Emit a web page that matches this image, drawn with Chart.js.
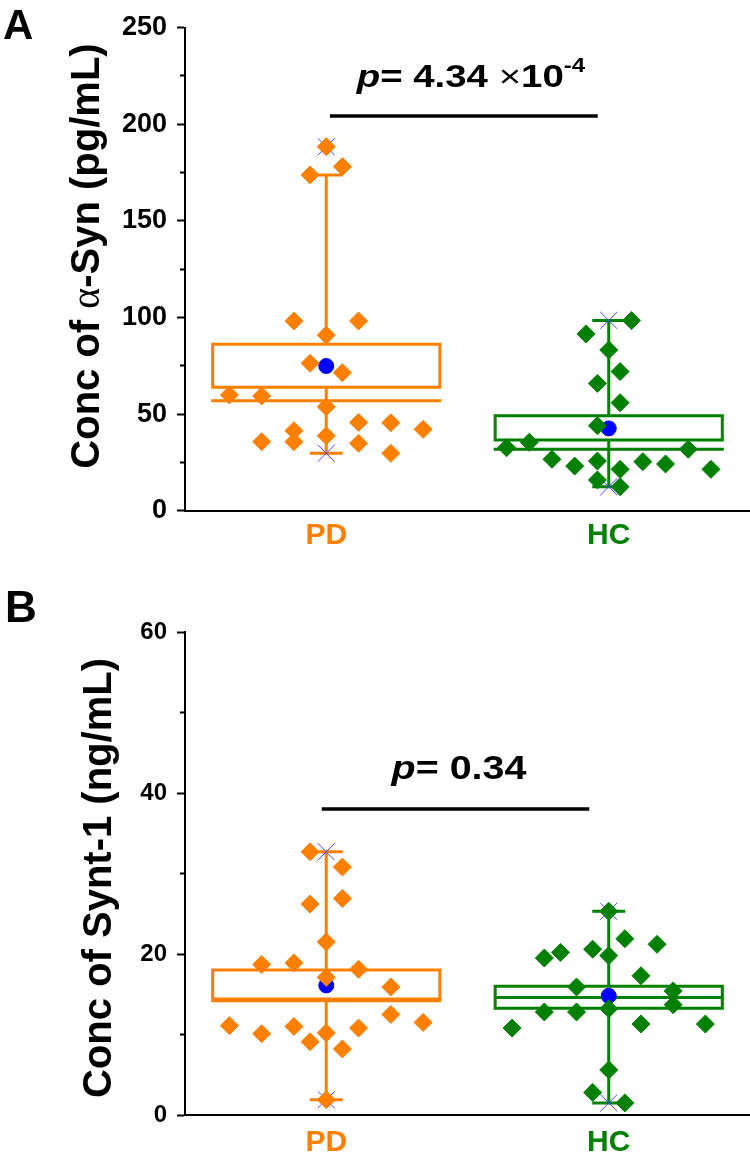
<!DOCTYPE html>
<html><head><meta charset="utf-8">
<script src="https://cdn.jsdelivr.net/npm/chart.js@4/dist/chart.umd.min.js"></script>
<style>
html,body{margin:0;padding:0;background:#fff;width:750px;height:1171px;overflow:hidden}
canvas{position:absolute;left:0}
#cA{top:0}
#cB{top:585px}
</style></head><body>
<canvas id="cA" width="750" height="585"></canvas>
<canvas id="cB" width="750" height="586"></canvas>
<script>
// ---------------- DATA ----------------
const categories = ['PD', 'HC'];

// Panel A: alpha-Syn (pg/mL)
const A_yMax = 250, A_yMajor = 50, A_yMinor = 25;
const pdA_values = [188.4, 173.8, 178.1, 98.2, 98.2, 90.9, 76.3, 71.4, 59.9, 59.4, 53.8, 45.7, 41.4, 35.7, 35.7, 38.8, 34.9, 45.5, 42.1, 29.7];
const pdA_jitter = [0, -0.5, 0.5, -1, 1, 0, -0.5, 0.5, -3, -2, 0, 1, -1, -2, -1, 0, 1, 2, 3, 2];
const hcA_values = [98.4, 91.5, 83.2, 72.0, 65.9, 55.9, 44.0, 32.6, 35.4, 26.6, 23.1, 25.7, 21.4, 25.4, 24.2, 31.8, 21.4, 15.9, 12.4];
const hcA_jitter = [1, -1, 0, 0.5, -0.5, 0.5, -0.5, -4.5, -3.5, -2.5, -1.5, -0.5, 0.5, 1.5, 2.5, 3.5, 4.5, -0.5, 0.5];
const A_mean = [74.9, 42.6];
const A_boxLow = [63.9, 36.6];
const A_boxHigh = [86.1, 49.2];
const A_median = [56.9, 31.8];
const A_whiskerLow = [29.7, 12.4];
const A_whiskerHigh = [173.8, 98.5];
const A_min = [29.7, 12.4];
const A_max = [188.4, 98.5];
const A_pValue = '4.34';
const A_pExp = '-4';

// Panel B: Synt-1 (ng/mL)
const B_yMax = 60, B_yMajor = 20, B_yMinor = 10;
const pdB_values = [32.7, 30.8, 26.2, 26.9, 21.5, 18.7, 18.9, 18.1, 17.1, 11.1, 10.1, 11.0, 9.1, 10.2, 8.2, 10.8, 1.9, 15.9, 12.5, 11.5];
const pdB_jitter = [-0.5, 0.5, -0.5, 0.5, 0, -2, -1, 1, 0, -3, -2, -1, -0.5, 0, 0.5, 1, 0, 2, 2, 3];
const hcB_values = [25.3, 21.9, 21.2, 19.5, 20.2, 20.6, 19.8, 17.3, 15.9, 15.4, 13.7, 13.2, 12.8, 12.8, 10.8, 11.3, 11.3, 5.6, 2.8, 1.5];
const hcB_jitter = [0, 1, 3, -4, -3, -1, 0, 2, -2, 4, 4, 0, -2, -4, -6, 2, 6, 0, -1, 1];
const B_mean = [16.1, 14.8];
const B_boxLow = [14.4, 13.25];
const B_boxHigh = [18.0, 16.0];
const B_median = [14.2, 14.6];
const B_whiskerLow = [1.9, 1.5];
const B_whiskerHigh = [32.7, 25.3];
const B_min = [1.9, 1.5];
const B_max = [32.7, 25.3];
const B_pValue = '0.34';

// ---------------- STYLE ----------------
const FONT = '"Liberation Sans", Arial, Helvetica, sans-serif';
const SERIF = '"Liberation Serif", "Times New Roman", serif';
const ORANGE = 'rgb(255,128,0)';
const GREEN = 'rgb(0,128,0)';
const BLUE = 'rgb(0,0,255)';
const XBLUE = 'rgb(70,70,255)';
const catColors = [ORANGE, GREEN];
const BOX_HALF = 0.402;   // half box width in category units
const CAP_HALF = 0.053;   // half whisker-cap width in category units

Chart.defaults.font.family = FONT;

function jitterPts(values, jitter, center, spacing) {
  return values.map((v, i) => ({x: center + jitter[i] * spacing, y: v}));
}

function groupLines(g, color, st) {
  const c = g, gap = {x: c, y: null};
  const lo = st.boxLow[g], hi = st.boxHigh[g];
  const data = [
    {x: c - BOX_HALF, y: lo}, {x: c + BOX_HALF, y: lo}, {x: c + BOX_HALF, y: hi}, {x: c - BOX_HALF, y: hi}, {x: c - BOX_HALF, y: lo}, gap,
    {x: c - BOX_HALF, y: st.median[g]}, {x: c + BOX_HALF, y: st.median[g]}, gap,
    {x: c, y: st.whiskerLow[g]}, {x: c, y: lo}, gap,
    {x: c, y: hi}, {x: c, y: st.whiskerHigh[g]}, gap,
    {x: c - CAP_HALF, y: st.whiskerLow[g]}, {x: c + CAP_HALF, y: st.whiskerLow[g]}, gap,
    {x: c - CAP_HALF, y: st.whiskerHigh[g]}, {x: c + CAP_HALF, y: st.whiskerHigh[g]}
  ];
  return {data, showLine: true, borderColor: color, borderWidth: 3, pointRadius: 0,
          spanGaps: false, borderJoinStyle: 'miter', borderCapStyle: 'square', order: 5};
}

function drawParts(ctx, parts, cx, baseline, stretch) {
  const widths = parts.map(p => { ctx.font = p.font; return ctx.measureText(p.text).width; });
  const total = widths.reduce((a, b) => a + b, 0);
  ctx.save();
  ctx.translate(cx, baseline);
  ctx.scale(stretch, 1);
  ctx.textAlign = 'left';
  ctx.textBaseline = 'alphabetic';
  let x = -total / 2;
  parts.forEach((p, i) => {
    ctx.font = p.font;
    ctx.fillStyle = '#000';
    ctx.fillText(p.text, x, -(p.dy || 0));
    x += widths[i];
  });
  ctx.restore();
}

function textPlugin(cfg) {
  return {
    id: 'panelText' + cfg.letter,
    afterDraw(chart) {
      const ctx = chart.ctx;
      const xs = chart.scales.x, ys = chart.scales.y;
      ctx.save();
      ctx.fillStyle = '#000';
      ctx.font = 'bold ' + cfg.letterSize + 'px ' + FONT;
      ctx.textAlign = 'left';
      ctx.textBaseline = 'alphabetic';
      ctx.fillText(cfg.letter, cfg.letterX, cfg.letterY);
      ctx.restore();
      ctx.save();
      ctx.translate(cfg.titleX, cfg.titleY);
      ctx.rotate(-Math.PI / 2);
      drawParts(ctx, cfg.titleParts, 0, 0, 1);
      ctx.restore();
      drawParts(ctx, cfg.pParts, xs.getPixelForValue(cfg.pX), ys.getPixelForValue(cfg.pY), cfg.pStretch);
    }
  };
}

function makeChart(id, p) {
  const st = p.stats;
  const datasets = [
    {data: jitterPts(p.pdValues, p.pdJitter, 0, p.pdSpacing), pointStyle: 'rectRot', pointRadius: 9,
     backgroundColor: ORANGE, borderColor: ORANGE, borderWidth: 1, order: 0},
    {data: jitterPts(p.hcValues, p.hcJitter, 1, p.hcSpacing), pointStyle: 'rectRot', pointRadius: 9,
     backgroundColor: GREEN, borderColor: GREEN, borderWidth: 1, order: 0},
    {data: st.mean.map((v, i) => ({x: i, y: v})), pointStyle: 'circle', pointRadius: 7.5,
     backgroundColor: BLUE, borderColor: BLUE, borderWidth: 1, order: 1},
    {data: st.min.map((v, i) => ({x: i, y: v})).concat(st.max.map((v, i) => ({x: i, y: v}))),
     pointStyle: 'crossRot', pointRadius: 12, borderColor: XBLUE, backgroundColor: XBLUE, borderWidth: 1, order: 2},
    groupLines(0, ORANGE, st),
    groupLines(1, GREEN, st),
    {data: [{x: p.sig.x0, y: p.sig.y}, {x: p.sig.x1, y: p.sig.y}], showLine: true, borderColor: '#000',
     borderWidth: 3.5, pointRadius: 0, order: 6}
  ];
  return new Chart(document.getElementById(id), {
    type: 'scatter',
    data: {datasets},
    plugins: [textPlugin(p.text)],
    options: {
      responsive: false, animation: false, events: [],
      layout: {autoPadding: false, padding: {top: p.padTop, left: 0, right: 0, bottom: 0}},
      plugins: {legend: {display: false}, tooltip: {enabled: false}},
      scales: {
        x: {
          type: 'linear', min: -0.5, max: 1.5,
          afterBuildTicks: s => { s.ticks = categories.map((c, i) => ({value: i})); },
          afterFit: s => { s.height = p.xHeight; s.paddingLeft = 0; s.paddingRight = 0; },
          ticks: {callback: v => categories[v], color: c => catColors[c.index],
                  font: {size: 30, weight: 'bold'}, padding: p.xPad, maxRotation: 0},
          grid: {drawOnChartArea: false, drawTicks: false},
          border: {display: true, color: '#000', width: 2}
        },
        y: {
          min: 0, max: p.yMax,
          afterFit: s => { s.width = 185; s.paddingTop = 0; s.paddingBottom = 0; },
          ticks: {stepSize: p.yMinor, color: '#000', font: {size: p.yFont, weight: 'bold'}, padding: 10,
                  callback: v => (v % p.yMajor === 0 ? String(v) : '')},
          grid: {drawOnChartArea: false, tickLength: 8, tickWidth: 2, tickColor: '#000',
                 tickBorderDash: c => (c.tick && c.tick.value % p.yMajor !== 0 ? [0, 3, 5, 10] : [])},
          border: {display: true, color: '#000', width: 2}
        }
      }
    }
  });
}

makeChart('cA', {
  pdValues: pdA_values, pdJitter: pdA_jitter, pdSpacing: 0.1143,
  hcValues: hcA_values, hcJitter: hcA_jitter, hcSpacing: 0.0804,
  stats: {mean: A_mean, boxLow: A_boxLow, boxHigh: A_boxHigh, median: A_median,
          whiskerLow: A_whiskerLow, whiskerHigh: A_whiskerHigh, min: A_min, max: A_max},
  sig: {x0: 0.013, x1: 0.961, y: 204.3},
  yMax: A_yMax, yMajor: A_yMajor, yMinor: A_yMinor, yFont: 27,
  padTop: 27.7, xHeight: 585 - 510.7, xPad: 7,
  text: {
    letter: 'A', letterSize: 42, letterX: 3, letterY: 39,
    titleX: 99, titleY: 256,
    titleParts: [
      {text: 'Conc of ', font: 'bold 40px ' + FONT},
      {text: 'α', font: '40px ' + SERIF},
      {text: '-Syn (pg/mL)', font: 'bold 40px ' + FONT}
    ],
    pX: 0.512, pY: 219.2, pStretch: 1.2,
    pParts: [
      {text: 'p', font: 'italic bold 32px ' + FONT},
      {text: '= ' + A_pValue + ' ', font: 'bold 32px ' + FONT},
      {text: '×', font: '32px ' + FONT},
      {text: '10', font: 'bold 32px ' + FONT},
      {text: A_pExp, font: 'bold 20px ' + FONT, dy: 15}
    ]
  }
});

makeChart('cB', {
  pdValues: pdB_values, pdJitter: pdB_jitter, pdSpacing: 0.1143,
  hcValues: hcB_values, hcJitter: hcB_jitter, hcSpacing: 0.057,
  stats: {mean: B_mean, boxLow: B_boxLow, boxHigh: B_boxHigh, median: B_median,
          whiskerLow: B_whiskerLow, whiskerHigh: B_whiskerHigh, min: B_min, max: B_max},
  sig: {x0: -0.016, x1: 0.931, y: 38.0},
  yMax: B_yMax, yMajor: B_yMajor, yMinor: B_yMinor, yFont: 24,
  padTop: 47, xHeight: 586 - 530, xPad: 10,
  text: {
    letter: 'B', letterSize: 44, letterX: 5, letterY: 37,
    titleX: 111, titleY: 293,
    titleParts: [
      {text: 'Conc of Synt-1 (ng/mL)', font: 'bold 40px ' + FONT}
    ],
    pX: 0.47, pY: 41.7, pStretch: 1.16,
    pParts: [
      {text: 'p', font: 'italic bold 34px ' + FONT},
      {text: '= ' + B_pValue, font: 'bold 34px ' + FONT}
    ]
  }
});
</script>
</body></html>
